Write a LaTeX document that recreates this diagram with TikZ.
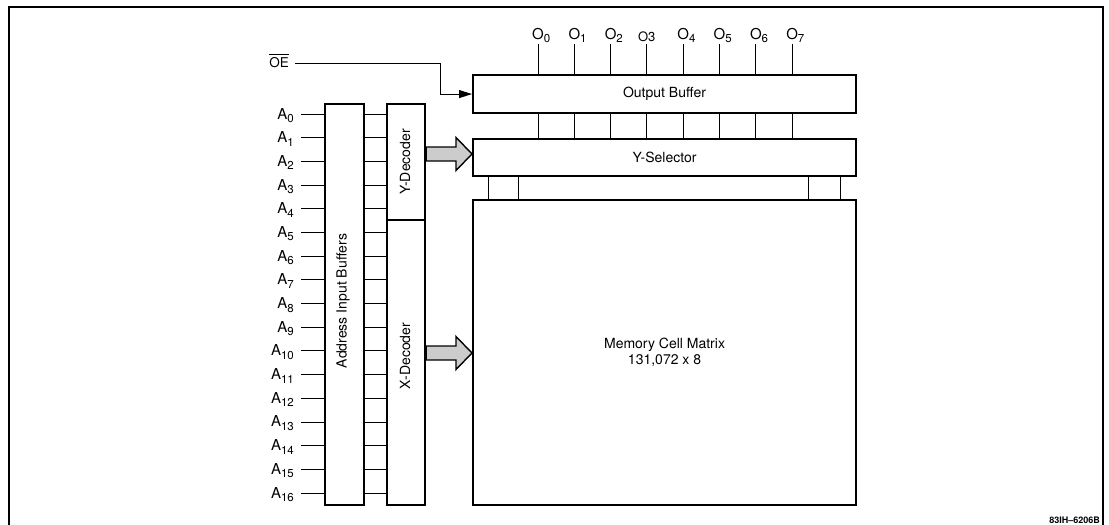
\documentclass[tikz,border=0pt]{standalone}
\usepackage{fontspec}
\setmainfont{TeX Gyre Heros}
\usetikzlibrary{arrows.meta,calc}
\newcommand\lowsub[1]{\raisebox{-3.5pt}{\fontsize{11.5}{12}\selectfont #1}}
\begin{document}
\begin{tikzpicture}[x=1pt,y=-1pt,
  blk/.style={draw, line width=2.1pt, inner sep=0pt, anchor=north west, font=\fontsize{14}{16}\selectfont},
  wire/.style={line width=0.9pt},
  lbl/.style={inner sep=0pt, font=\fontsize{14}{16}\selectfont},
  pin/.style={inner sep=0pt, font=\fontsize{15}{16}\selectfont},
  fat/.style={draw, line width=1.4pt, fill=gray!40, line join=miter},
  frame/.style={line width=2pt}]
\useasboundingbox (0,0) rectangle (1109,525);
\draw[frame] (9,530) -- (9,7) -- (1103,7) -- (1103,530);

% blocks
\node[blk, minimum width=39, minimum height=401] (aib) at (324,103) {};
\node[lbl, rotate=90] (aibt) at (343,301) {Address Input Buffers};
\node[blk, minimum width=38, minimum height=116] (yd) at (386,103) {};
\node[lbl, rotate=90] (ydt) at (405,162) {Y-Decoder};
\node[blk, minimum width=38, minimum height=285] (xd) at (386,219) {};
\node[lbl, rotate=90] (xdt) at (405,356) {X-Decoder};
\node[blk, minimum width=383, minimum height=38] (ob) at (472,74) {Output Buffer};
\node[blk, minimum width=383, minimum height=37] (ys) at (472,138) {Y-Selector};
\node[blk, minimum width=383, minimum height=305, align=center] (mem) at (472,199)
  {Memory Cell Matrix\\131,072 x 8};

% address inputs
\foreach \i in {0,...,16}{
  \pgfmathsetmacro\yy{114+23.69*\i}
  \coordinate (a\i) at (301,\yy);
  \node[pin, anchor=base east] (la\i) at (294,\yy+5) {A\lowsub{\i}};
  \draw[wire] (a\i) -- (a\i -| aib.west);
  \draw[wire] (a\i -| aib.east) -- (a\i -| yd.west);
}

% outputs
\foreach \i in {0,...,7}{
  \pgfmathsetmacro\xx{538+36.3*\i}
  \coordinate (o\i) at (\xx,44);
  \draw[wire] (o\i) -- (o\i |- ob.north);
  \draw[wire] (o\i |- ob.south) -- (o\i |- ys.north);
}
\foreach \i in {0,1,2,4,5,6,7}{
  \node[pin, anchor=base west] (lo\i) at ($(o\i)+(-6,-5)$) {O\lowsub{\i}};
}
\node[pin, anchor=base west, font=\fontsize{13}{14}\selectfont] (lo3) at ($(o3)+(-9,-3)$) {O3};

% selector to matrix
\foreach \xx [count=\k] in {488,518,808,840}{
  \coordinate (s\k) at (\xx,187);
  \draw[wire] (s\k |- ys.south) -- (s\k |- mem.north);
}

% OE
\node[pin, anchor=east, font=\fontsize{13.5}{14}\selectfont] (oe) at (289,63) {OE};
\draw[line width=0.7pt] ($(oe.north west)+(0,-3.5)$) -- ($(oe.north east)+(0,-3.5)$);
\coordinate (oebend) at (440,63);
\draw[wire, -{Triangle[length=13pt,width=8pt]}] ([xshift=6pt]oe.east) -- (oebend) |- (ob.west);

% fat arrows
\newcommand\fatarrow[2]{%
  \draw[fat] ($(#1)+(0,-7)$) -- ($(#2)+(-16,-7)$) -- ($(#2)+(-16,-16.5)$) -- (#2)
    -- ($(#2)+(-16,16.5)$) -- ($(#2)+(-16,7)$) -- ($(#1)+(0,7)$) -- cycle;}
\coordinate (ya) at (yd.east |- 0,154);
\coordinate (yb) at (ys.west |- 0,154);
\fatarrow{ya}{yb}
\coordinate (xa) at (xd.east |- 0,353);
\coordinate (xb) at (mem.west |- 0,353);
\fatarrow{xa}{xb}

% figure id
\node[inner sep=0pt, anchor=base east, font=\fontsize{9}{10}\selectfont\bfseries] (fid) at (1100,523) {83IH--6206B};
\end{tikzpicture}
\end{document}
